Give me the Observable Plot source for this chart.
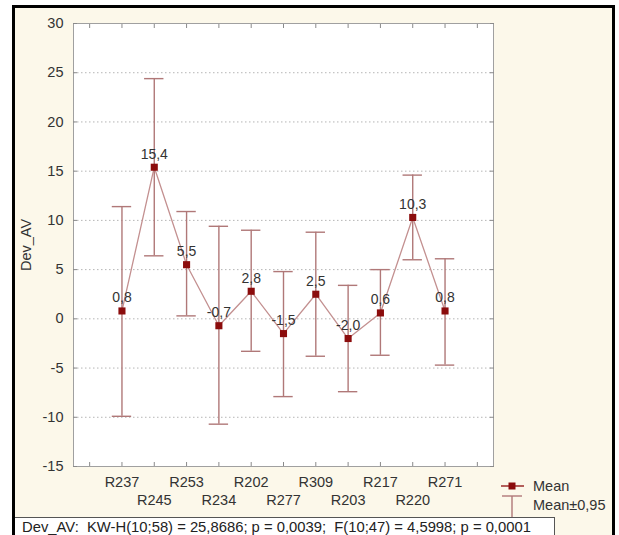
<!DOCTYPE html>
<html>
<head>
<meta charset="utf-8">
<script src="https://cdn.jsdelivr.net/npm/d3@7"></script>
<script src="https://cdn.jsdelivr.net/npm/@observablehq/plot@0.6"></script>
<style>
  html, body { margin: 0; padding: 0; background: #ffffff; }
  body { width: 619px; height: 535px; position: relative; overflow: hidden; font-family: "Liberation Sans", Arial, sans-serif; }
  #frame { position: absolute; left: 12px; top: 5px; width: 597px; height: 540px; border: 3px solid #000; background: #fcf8ea; }
  #chart { position: absolute; left: 0; top: 0; }
  #legend { position: absolute; left: 498px; top: 476px; font-size: 14.5px; color: #333; }
  #footer { position: absolute; left: 15px; top: 517px; width: 539px; height: 30px; border: 1px solid #555; border-left: none; background: #fff; font-size: 14.8px; color: #222; white-space: pre; }
  #footer span { position: absolute; left: 7px; top: 1px; }
</style>
</head>
<body>
<div id="frame"></div>
<div id="chart"></div>
<div id="legend"></div>
<div id="footer"><span>Dev_AV:  KW-H(10;58) = 25,8686; p = 0,0039;  F(10;47) = 4,5998; p = 0,0001</span></div>
<script>
const categories = ["R237","R245","R253","R234","R202","R277","R309","R203","R217","R220","R271"];
const means = [0.8, 15.4, 5.5, -0.7, 2.8, -1.5, 2.5, -2.0, 0.6, 10.3, 0.8];
const upper = [11.4, 24.4, 10.9, 9.4, 9.0, 4.8, 8.8, 3.4, 5.0, 14.6, 6.1];
const lower = [-9.9, 6.4, 0.3, -10.7, -3.3, -7.9, -3.8, -7.4, -3.7, 6.0, -4.7];
const yTicks = [-15, -10, -5, 0, 5, 10, 15, 20, 25, 30];
const gridTicks = [-10, -5, 0, 5, 10, 15, 20, 25];

const rows = categories.map((c, i) => ({i, cat: c, mean: means[i], upper: upper[i], lower: lower[i]}));
const idx = categories.map((c, i) => i);
const frameTicks = [-1, ...idx, categories.length];
const evenIdx = idx.filter(i => i % 2 === 0);
const oddIdx = idx.filter(i => i % 2 === 1);
const fmt = v => v.toFixed(1).replace(".", ",");

const barColor = "#b07878";
const lineColor = "#c39090";
const markColor = "#8b0c0c";
const axisColor = "#8a8a8a";

const chart = Plot.plot({
  width: 619,
  height: 535,
  marginLeft: 73,
  marginRight: 126,
  marginTop: 23,
  marginBottom: 69,
  x: {type: "linear", domain: [-1.5, categories.length + 0.5], axis: null},
  y: {domain: [-15, 30], axis: null},
  style: {background: "transparent", fontFamily: "'Liberation Sans', Arial, sans-serif", fontSize: "14.5px", color: "#333"},
  marks: [
    Plot.frame({fill: "white"}),
    Plot.gridY(gridTicks, {stroke: "#b5b5b5", strokeOpacity: 1, strokeDasharray: "1.5,2.5"}),
    Plot.frame({stroke: "#a0a0a0"}),
    Plot.axisY(yTicks, {anchor: "left", tickSize: 0, tickPadding: 10, fill: "#333",
      tickFormat: d => String(d), label: "Dev_AV", labelAnchor: "center", labelArrow: "none", labelOffset: 53}),
    Plot.axisY(yTicks, {anchor: "left", tickSize: 4, dx: 4, stroke: axisColor, fill: "none", label: null}),
    Plot.axisY(yTicks, {anchor: "right", tickSize: 4, dx: -4, stroke: axisColor, fill: "none", label: null}),
    Plot.axisX(frameTicks, {anchor: "top", tickSize: 4, dy: 4, stroke: axisColor, fill: "none", label: null}),
    Plot.axisX(frameTicks, {anchor: "bottom", tickSize: 4, dy: -4, stroke: axisColor, fill: "none", label: null}),
    Plot.axisX(evenIdx, {anchor: "bottom", tickSize: 0, tickPadding: 10, fill: "#333", tickFormat: i => categories[i], label: null}),
    Plot.axisX(oddIdx, {anchor: "bottom", tickSize: 0, tickPadding: 28, fill: "#333", tickFormat: i => categories[i], label: null}),
    Plot.line(rows, {x: "i", y: "mean", stroke: lineColor, strokeWidth: 1.3}),
    Plot.ruleX(rows, {x: "i", y1: "lower", y2: "upper", stroke: barColor, strokeWidth: 1.4}),
    Plot.ruleY(rows, {y: "upper", x1: d => d.i - 0.3, x2: d => d.i + 0.3, stroke: barColor, strokeWidth: 1.4}),
    Plot.ruleY(rows, {y: "lower", x1: d => d.i - 0.3, x2: d => d.i + 0.3, stroke: barColor, strokeWidth: 1.4}),
    Plot.dot(rows, {x: "i", y: "mean", symbol: "square", r: 4, fill: markColor, stroke: null}),
    Plot.text(rows, {x: "i", y: "mean", text: d => fmt(d.mean), dy: -13, fill: "#333", fontSize: 14})
  ]
});
document.getElementById("chart").appendChild(chart);

// Legend
const legend = document.getElementById("legend");
legend.innerHTML = `
<svg width="120" height="50" style="position:absolute;left:0;top:0;overflow:visible">
  <line x1="3" y1="10" x2="26" y2="10" stroke="${markColor}" stroke-width="1.3"/>
  <rect x="10.5" y="6.5" width="7" height="7" fill="${markColor}"/>
  <line x1="14" y1="20" x2="14" y2="46" stroke="${barColor}" stroke-width="1.4"/>
  <line x1="4" y1="20" x2="24" y2="20" stroke="${barColor}" stroke-width="1.4"/>
  <line x1="4" y1="46" x2="24" y2="46" stroke="${barColor}" stroke-width="1.4"/>
</svg>
<div style="position:absolute;left:35px;top:2px;white-space:nowrap">Mean</div>
<div style="position:absolute;left:35px;top:21px;white-space:nowrap">Mean±0,95</div>`;
</script>
</body>
</html>
